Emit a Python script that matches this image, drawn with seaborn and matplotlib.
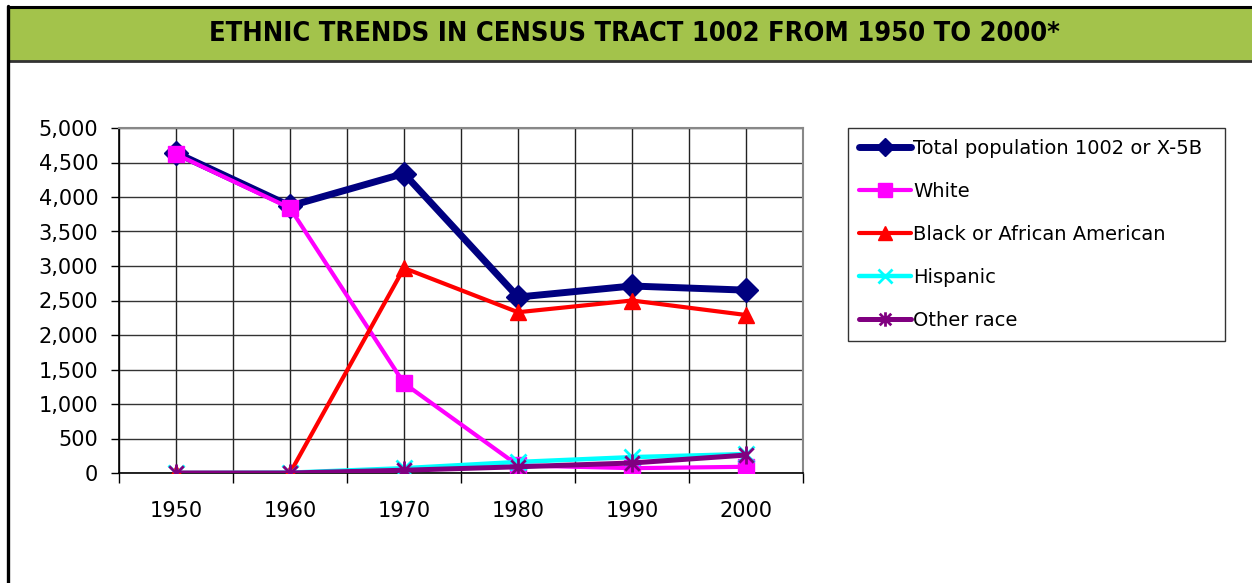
import matplotlib
matplotlib.use("Agg")
import matplotlib.pyplot as plt
import seaborn as sns
import pandas as pd
from matplotlib.patches import Rectangle
from matplotlib.lines import Line2D
from matplotlib.path import Path
from matplotlib.ticker import FuncFormatter

years = [1950, 1960, 1970, 1980, 1990, 2000]
total = [4640, 3870, 4340, 2550, 2710, 2650]
white = [4620, 3840, 1300, 110, 70, 90]
black = [0, 0, 2970, 2330, 2500, 2290]
hispanic = [0, 5, 70, 160, 230, 275]
other = [0, 0, 40, 90, 145, 260]
series_names = ["Total population 1002 or X-5B", "White", "Black or African American",
                "Hispanic", "Other race"]
title_text = "ETHNIC TRENDS IN CENSUS TRACT 1002 FROM 1950 TO 2000*"

sns.set_theme(style="white")
plt.rcParams['font.family'] = ['DejaVu Sans']
plt.rcParams['text.color'] = 'black'

fig = plt.figure(figsize=(12.52, 5.83), dpi=100)
W, H = 1252, 583

def fx(px):
    return px / W

def fy(py):
    return 1 - py / H

# title bar
fig.patches.append(Rectangle((fx(8), fy(61)), 1 - fx(8), (61 - 7) / H, transform=fig.transFigure,
                             facecolor="#A3C34B", edgecolor="none", zorder=0))
fig.lines.append(Line2D([fx(8), 1], [fy(7), fy(7)], transform=fig.transFigure, color="black", lw=2.2))
fig.lines.append(Line2D([fx(8), 1], [fy(61), fy(61)], transform=fig.transFigure, color="#333333", lw=2.0))
fig.lines.append(Line2D([fx(8), fx(8)], [fy(6), 0], transform=fig.transFigure, color="black", lw=2.4))
fig.text(fx(634), fy(34), title_text, ha="center", va="center", fontsize=19.5, fontweight="bold",
         fontstretch="condensed", color="black")

ax = fig.add_axes([fx(119), fy(473), fx(803) - fx(119), (473 - 128) / H])

df = pd.DataFrame({"year": years, "total": total, "white": white, "black": black,
                   "hispanic": hispanic, "other": other})

# asterisk marker: an X plus a vertical bar
star = Path([(-1, -1), (1, 1), (-1, 1), (1, -1), (0, -1.25), (0, 1.25)],
            [Path.MOVETO, Path.LINETO, Path.MOVETO, Path.LINETO, Path.MOVETO, Path.LINETO])

styles = [
    ("total", "#000080", "D", 12, 5.0),
    ("white", "#FF00FF", "s", 12, 3.0),
    ("black", "#FF0000", "^", 12, 3.0),
    ("hispanic", "#00FFFF", "x", 12, 3.2),
    ("other", "#800080", star, 13, 3.6),
]
handles = []
for (col, color, marker, ms, lw), name in zip(styles, series_names):
    mew = 2 if (marker is star or marker == "x") else 1
    sns.lineplot(data=df, x="year", y=col, ax=ax, color=color, lw=lw, marker=marker,
                 markersize=ms, markeredgecolor=color, markerfacecolor=color,
                 markeredgewidth=mew, legend=False, zorder=3)
    handles.append(Line2D([], [], color=color, lw=lw, marker=marker, markersize=ms * 0.8,
                          markerfacecolor=color, markeredgecolor=color, markeredgewidth=mew))

ax.set_xlim(1945, 2005)
ax.set_ylim(0, 5000)
ax.set_xticks(years)
ax.set_xticks(list(range(1945, 2006, 10)), minor=True)
ax.set_yticks(list(range(0, 5001, 500)))
ax.yaxis.set_major_formatter(FuncFormatter(lambda v, p: f"{int(v):,}"))
ax.set_xlabel("")
ax.set_ylabel("")
ax.tick_params(axis="x", which="major", length=0, labelsize=15, pad=20, colors="black")
ax.tick_params(axis="x", which="minor", length=7, width=1, direction="out", color="black", bottom=True)
ax.tick_params(axis="y", which="major", length=6, width=1, direction="out", labelsize=15,
               pad=9, colors="black", left=True)
for v in range(1945, 2006, 5):
    ax.axvline(v, color="#222222", lw=1.0, zorder=1)
for v in range(0, 5001, 500):
    ax.axhline(v, color="#333333", lw=1.0, zorder=1)
for s in ["top", "right"]:
    ax.spines[s].set_color("#888888")
    ax.spines[s].set_linewidth(1.5)
for s in ["left", "bottom"]:
    ax.spines[s].set_color("black")
    ax.spines[s].set_linewidth(1.2)

leg = fig.legend(handles, series_names, loc="upper left",
                 bbox_to_anchor=(fx(848), fy(343), fx(1225) - fx(848), (343 - 128) / H),
                 bbox_transform=fig.transFigure, mode="expand",
                 frameon=True, fancybox=False, edgecolor="black", fontsize=14,
                 handlelength=2.7, handletextpad=0.1, labelspacing=1.24,
                 borderpad=0.55, borderaxespad=0)
leg.get_frame().set_linewidth(1.0)
for t in leg.get_texts():
    t.set_color("black")

fig.savefig("out.png", dpi=100, facecolor="white")
